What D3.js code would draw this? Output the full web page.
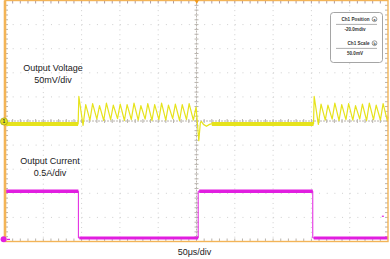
<!DOCTYPE html>
<html>
<head>
<meta charset="utf-8">
<script src="https://cdn.jsdelivr.net/npm/d3@7"></script>
<style>
  body { margin: 0; background: #fff; overflow: hidden; }
  text { font-family: "Liberation Sans", Arial, sans-serif; }
</style>
</head>
<body>
<svg id="scope"></svg>
<script>
// ch1 = output voltage, time in us, value in mV
let ch1Time = [-250, -154.5, -153.6, -148.1, -144.6, -139.1, -135.6, -130.1, -126.6, -121.1,
  -117.6, -112.1, -108.6, -103.1, -99.6, -94.1, -90.6, -85.1, -81.6, -76.1, -72.6, -67.1,
  -63.6, -58.1, -54.6, -49.1, -45.6, -40.1, -36.6, -31.1, -27.6, -22.1, -18.6, -13.1,
  -9.6, -4.1, -0.6, 1.5, 3.0, 5.0, 6.5, 9.0, 13.0, 17.0, 22.0, 30.0, 152.8,
  153.6, 159.1, 162.6, 168.1, 171.6, 177.1, 180.6, 186.1, 189.6, 195.1, 198.6, 204.1,
  207.6, 213.1, 216.6, 222.1, 225.6, 231.1, 234.6, 240.1, 243.6, 249.1, 250];
let ch1Volt = [-5, -5, 52, -8, 35, 3, 37, 5, 33, 2,
  38, 4, 34, 6, 36, 2, 35, 4, 38, 3, 33, 5,
  37, 2, 35, 4, 38, 3, 34, 6, 36, 2, 35, 4,
  37, 3, 30, -10, -40, -3, 0, -6, -10, -6, -4, -5, -5,
  52, -6, 36, 3, 34, 5, 38, 2, 35, 4, 37, 3,
  33, 5, 36, 2, 38, 4, 34, 3, 37, 2, 10];
// spans where ch1 sits flat (drawn as a noisy band)
let ch1FlatStart = [-249, 20];
let ch1FlatEnd = [-154.6, 152.8];
let ch1FlatLevel = -5;

// ch2 = output current, time in us, value in A
let ch2Time = [-248.7, -154.2, 2.2, 151.8, 250];
let ch2Amp = [1.0, 0.03, 1.0, 0.03, 0.03];
let ch2GlitchTime = [242, 244.6];
let ch2GlitchAmp = 0.48;

let labelVoltage = ["Output Voltage", "50mV/div"];
let labelCurrent = ["Output Current", "0.5A/div"];
let labelTime = "50\u03bcs/div";
let infoRows = ["Ch1 Position", "-20.0mdiv", "Ch1 Scale", "50.0mV"];

let width = 390, height = 259;
let plotL = 5, plotR = 388, plotT = 0.5, plotB = 241.5;
let yellow = "#e6e31c", magenta = "#e11ee0", frameColor = "#f3b457";

let svg = d3.select("#scope")
    .attr("width", width)
    .attr("height", height);

// scope scales: 10 x 10 divisions
let x = d3.scaleLinear().domain([-250, 250]).range([plotL, plotR]);
let y1 = d3.scaleLinear().domain([-249, 251]).range([plotB, plotT]);      // 50mV/div
let y2 = d3.scaleLinear().domain([-0.044, 4.956]).range([plotB, plotT]);  // 0.5A/div

let divW = (plotR - plotL) / 10, divH = (plotB - plotT) / 10;
let midX = x(0), midY = (plotT + plotB) / 2;

// dotted graticule
let grid = svg.append("g").attr("stroke", "#cfcfcf").attr("stroke-width", 1);
d3.range(1, 10).filter(i => i !== 5).forEach(i => {
  grid.append("line")
      .attr("x1", plotL + i * divW).attr("x2", plotL + i * divW)
      .attr("y1", plotT).attr("y2", plotB)
      .attr("stroke-dasharray", "1," + (divH / 5 - 1));
  grid.append("line")
      .attr("y1", plotT + i * divH).attr("y2", plotT + i * divH)
      .attr("x1", plotL).attr("x2", plotR)
      .attr("stroke-dasharray", "1," + (divW / 5 - 1));
});

// center cross with minor ticks
let cross = svg.append("g").attr("stroke", "#b9b4ae").attr("stroke-width", 1);
cross.append("line")
    .attr("x1", midX).attr("x2", midX).attr("y1", plotT).attr("y2", plotB)
    .attr("stroke-dasharray", "2,1");
cross.append("line")
    .attr("x1", plotL).attr("x2", plotR).attr("y1", midY).attr("y2", midY)
    .attr("stroke-dasharray", "2,1");
d3.range(1, 50).forEach(i => {
  let yy = plotT + i * divH / 5, xx = plotL + i * divW / 5;
  cross.append("line").attr("x1", midX - 2).attr("x2", midX + 2).attr("y1", yy).attr("y2", yy);
  cross.append("line").attr("y1", midY - 2).attr("y2", midY + 2).attr("x1", xx).attr("x2", xx);
  // ticks on the frame edges
  cross.append("line").attr("x1", xx).attr("x2", xx).attr("y1", plotT).attr("y2", plotT + 3)
      .attr("stroke", "#a99aa8");
  cross.append("line").attr("x1", xx).attr("x2", xx).attr("y1", plotB - 3).attr("y2", plotB);
  cross.append("line").attr("y1", yy).attr("y2", yy).attr("x1", plotL).attr("x2", plotL + 3);
  cross.append("line").attr("y1", yy).attr("y2", yy).attr("x1", plotR - 3).attr("x2", plotR);
});

// info box in upper right
let box = svg.append("g");
box.append("rect")
    .attr("x", 330.5).attr("y", 12.5).attr("width", 52).attr("height", 50)
    .attr("rx", 3).attr("fill", "#fff").attr("stroke", "#8e8e8e").attr("stroke-width", 0.8);
[20.8, 44.8].forEach((yy, i) => {
  box.append("text").attr("x", 369.5).attr("y", yy)
      .attr("text-anchor", "end").attr("font-size", 4.6).attr("font-weight", "bold")
      .attr("fill", "#333").text(infoRows[i * 2]);
  box.append("circle").attr("cx", 374.5).attr("cy", yy - 1.6).attr("r", 2.4)
      .attr("fill", "#fff").attr("stroke", "#555").attr("stroke-width", 0.6);
  box.append("text").attr("x", 374.5).attr("y", yy - 0.3)
      .attr("text-anchor", "middle").attr("font-size", 3.6).attr("font-weight", "bold")
      .attr("fill", "#333").text(i ? "b" : "a");
  box.append("line").attr("x1", 336).attr("x2", 377).attr("y1", yy + 3.6).attr("y2", yy + 3.6)
      .attr("stroke", "#777").attr("stroke-width", 0.6);
  box.append("text").attr("x", 355).attr("y", yy + 10)
      .attr("text-anchor", "middle").attr("font-size", 4.6).attr("font-weight", "bold")
      .attr("fill", "#333").text(infoRows[i * 2 + 1]);
});

// ch1 trace
let line1 = d3.line().x(d => x(d[0])).y(d => y1(d[1]));
let ch1 = d3.zip(ch1Time, ch1Volt);
ch1FlatStart.forEach((t0, i) => {
  svg.append("path")
      .attr("d", line1([[t0, ch1FlatLevel], [ch1FlatEnd[i], ch1FlatLevel]]))
      .attr("stroke", yellow).attr("stroke-width", 4);
});
svg.append("path")
    .attr("d", line1(ch1))
    .attr("fill", "none").attr("stroke", yellow).attr("stroke-width", 1.2)
    .attr("stroke-linejoin", "round");

// ch2 trace: thin step for edges, thick band for levels
let ch2 = d3.zip(ch2Time, ch2Amp);
svg.append("path")
    .attr("d", d3.line().x(d => x(d[0])).y(d => y2(d[1])).curve(d3.curveStepAfter)(ch2))
    .attr("fill", "none").attr("stroke", magenta).attr("stroke-width", 1);
ch2.slice(0, -1).forEach((d, i) => {
  svg.append("line")
      .attr("x1", x(d[0]) + (i ? 1 : 0)).attr("x2", x(ch2[i + 1][0]))
      .attr("y1", y2(d[1])).attr("y2", y2(d[1]))
      .attr("stroke", magenta).attr("stroke-width", d[1] > 0.5 ? 3.6 : 3);
});
svg.append("line")
    .attr("x1", x(ch2GlitchTime[0])).attr("x2", x(ch2GlitchTime[1]))
    .attr("y1", y2(ch2GlitchAmp)).attr("y2", y2(ch2GlitchAmp))
    .attr("stroke", magenta).attr("stroke-width", 1.2);

// frame
svg.append("rect")
    .attr("x", plotL).attr("y", plotT).attr("width", plotR - plotL).attr("height", plotB - plotT)
    .attr("fill", "none").attr("stroke", frameColor).attr("stroke-width", 1.4);
svg.append("line")
    .attr("x1", plotL).attr("x2", plotL).attr("y1", plotT).attr("y2", plotB)
    .attr("stroke", frameColor).attr("stroke-width", 2.6);

// trigger position marker
svg.append("path")
    .attr("d", `M${midX - 2},0 L${midX + 2.5},0 L${midX + 0.3},4 Z`)
    .attr("fill", "#f29a1c");

// channel markers
svg.append("circle").attr("cx", 4).attr("cy", y1(0)).attr("r", 3.6)
    .attr("fill", yellow).attr("stroke", "#9c9a10").attr("stroke-width", 0.7);
svg.append("text").attr("x", 4).attr("y", y1(0) + 1.8)
    .attr("text-anchor", "middle").attr("font-size", 5).attr("font-weight", "bold")
    .attr("fill", "#333").text("1");
svg.append("circle").attr("cx", 3.6).attr("cy", y2(0) - 0.2).attr("r", 3)
    .attr("fill", magenta);
svg.append("line").attr("x1", 7).attr("x2", 10).attr("y1", y2(0)).attr("y2", y2(0))
    .attr("stroke", magenta).attr("stroke-width", 1.2);

// channel labels
let labels = svg.append("g").attr("font-size", 9).attr("fill", "#1a1a1a")
    .attr("text-anchor", "middle");
labelVoltage.forEach((s, i) => {
  labels.append("text").attr("x", 53).attr("y", 70.8 + i * 12.4).text(s);
});
labelCurrent.forEach((s, i) => {
  labels.append("text").attr("x", 50).attr("y", 163.6 + i * 12.4).text(s);
});
labels.append("text").attr("x", 194.5).attr("y", 255).text(labelTime);
</script>
</body>
</html>
